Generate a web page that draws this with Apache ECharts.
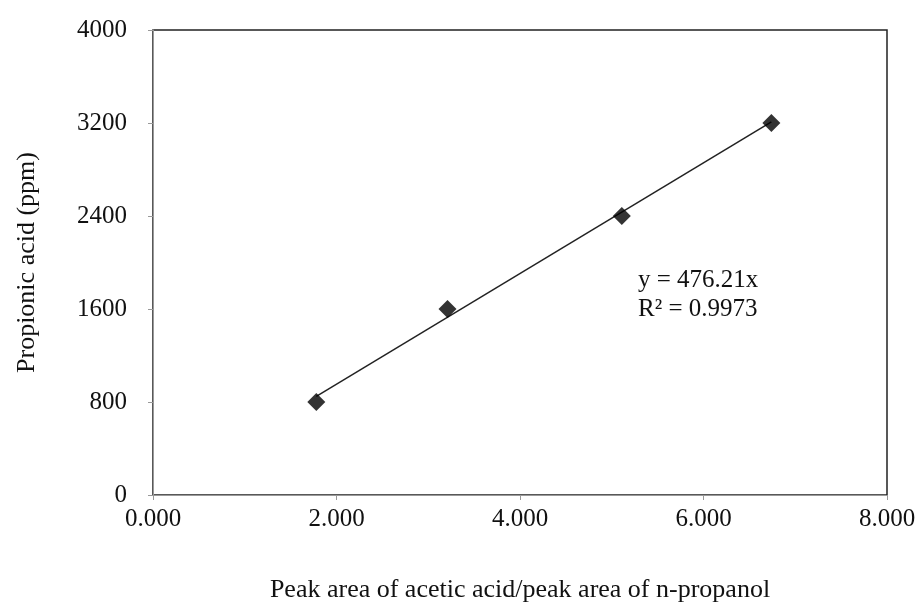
<!DOCTYPE html>
<html>
<head>
<meta charset="utf-8">
<script src="https://cdn.jsdelivr.net/npm/echarts@6/dist/echarts.min.js"></script>
<style>
  html, body { margin: 0; padding: 0; background: #fff; }
  #chart { width: 923px; height: 606px; }
</style>
</head>
<body>
<div id="chart"></div>
<script>
// measured calibration points
const xValues = [1.78, 3.21, 5.11, 6.74];
const yValues = [800, 1600, 2400, 3200];
const slope = 476.21;
const rSquared = '0.9973';

const points = xValues.map((x, i) => [x, yValues[i]]);
const xLo = Math.min(...xValues);
const xHi = Math.max(...xValues);
const trend = [[xLo, slope * xLo], [xHi, slope * xHi]];

const font = 'Liberation Serif';
const chart = echarts.init(document.getElementById('chart'));
chart.setOption({
  animation: false,
  backgroundColor: '#fff',
  grid: {
    left: 153, right: 36, top: 30, bottom: 111,
    outerBoundsMode: 'none',
    show: true, borderColor: '#222', borderWidth: 1.5
  },
  xAxis: {
    type: 'value',
    min: 0, max: 8, interval: 2,
    name: 'Peak area of acetic acid/peak area of n-propanol',
    nameLocation: 'middle',
    nameGap: 82,
    nameTextStyle: { fontFamily: font, fontSize: 26, color: '#111' },
    axisLine: { show: true, lineStyle: { color: '#999', width: 1 } },
    axisTick: { show: true, length: 5, lineStyle: { color: '#999' } },
    splitLine: { show: false },
    axisLabel: {
      margin: 12, fontFamily: font, fontSize: 25, color: '#111',
      formatter: v => v.toFixed(3)
    }
  },
  yAxis: {
    type: 'value',
    min: 0, max: 4000, interval: 800,
    name: 'Propionic acid (ppm)',
    nameLocation: 'middle',
    nameGap: 113,
    nameTextStyle: { fontFamily: font, fontSize: 26, color: '#111' },
    axisLine: { show: true, lineStyle: { color: '#999', width: 1 } },
    axisTick: { show: true, length: 5, lineStyle: { color: '#999' } },
    splitLine: { show: false },
    axisLabel: {
      margin: 26, fontFamily: font, fontSize: 25, color: '#111',
      formatter: v => String(v)
    }
  },
  series: [
    {
      type: 'line',
      data: trend,
      symbol: 'none',
      lineStyle: { color: '#222', width: 1.5 },
      z: 2
    },
    {
      type: 'scatter',
      data: points,
      symbol: 'diamond',
      symbolSize: 18,
      itemStyle: { color: '#000' },
      z: 3
    }
  ],
  graphic: [
    {
      type: 'text', left: 638, top: 266,
      style: {
        text: 'y = ' + slope + 'x\nR² = ' + rSquared,
        font: '25px "Liberation Serif"', fill: '#111', lineHeight: 29
      }
    }
  ]
});
</script>
</body>
</html>
